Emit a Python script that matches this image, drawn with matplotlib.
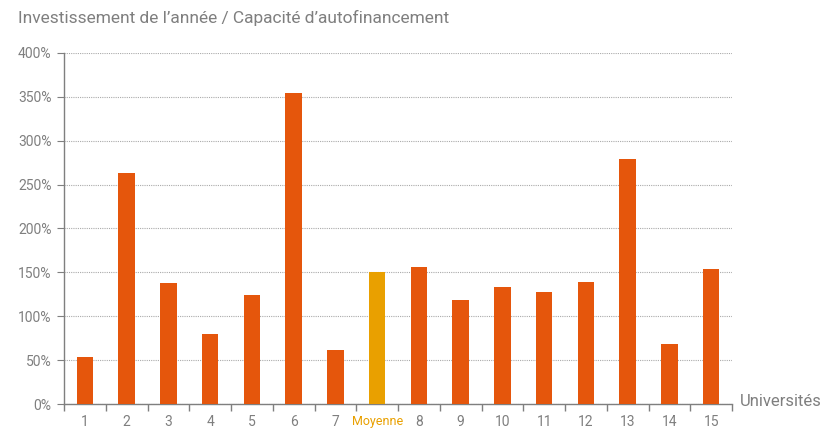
import matplotlib
matplotlib.use("Agg")
import matplotlib.pyplot as plt
import numpy as np

categories = ["1", "2", "3", "4", "5", "6", "7", "Moyenne", "8", "9", "10", "11", "12", "13", "14", "15"]
values = [53, 263, 138, 80, 124, 354, 61, 150, 156, 118, 133, 128, 139, 279, 68, 154]
yticks = [0, 50, 100, 150, 200, 250, 300, 350, 400]
ytick_labels = [f"{v}%" for v in yticks]

plt.rcParams["font.family"] = ["Roboto", "DejaVu Sans"]

orange = "#E5560C"
gold = "#E9A000"
gray = "#7f7f7f"

fig = plt.figure(figsize=(8.3, 4.3), dpi=100)
ax = fig.add_axes([64/830, 1-404/430, (732-64)/830, (404-53)/430])

x = np.arange(len(categories))
colors = [gold if c == "Moyenne" else orange for c in categories]
ax.bar(x, values, width=0.4, color=colors, zorder=3)

ax.set_xlim(-0.5, len(categories)-0.5)
ax.set_ylim(0, 400)
ax.set_yticks(yticks)
ax.set_yticklabels(ytick_labels)
ax.yaxis.grid(True, linestyle=(0, (1, 1)), color="#aaaaaa", linewidth=0.8, zorder=0)

ax.set_xticks(x)
ax.set_xticklabels(categories)
ax.tick_params(axis="x", length=0, pad=8, labelsize=10, labelcolor=gray)
ax.set_xticks(np.arange(-0.5, len(categories), 1), minor=True)
ax.tick_params(axis="x", which="minor", length=5, color=gray, width=1)
ax.tick_params(axis="y", length=5, color=gray, labelsize=10, labelcolor=gray, pad=4)
for lbl, c in zip(ax.get_xticklabels(), categories):
    if c == "Moyenne":
        lbl.set_color(gold)
        lbl.set_fontsize(9)

for s in ["top", "right"]:
    ax.spines[s].set_visible(False)
for s in ["left", "bottom"]:
    ax.spines[s].set_color(gray)
    ax.spines[s].set_linewidth(1)

fig.text(18/830, 1-18/430, "Investissement de l\u2019ann\u00e9e / Capacit\u00e9 d\u2019autofinancement",
         fontsize=12.5, color=gray, va="center", ha="left")
fig.text(740/830, 1-402/430, "Universit\u00e9s", fontsize=12, color=gray, va="center", ha="left")

fig.savefig("out.png", dpi=100)
